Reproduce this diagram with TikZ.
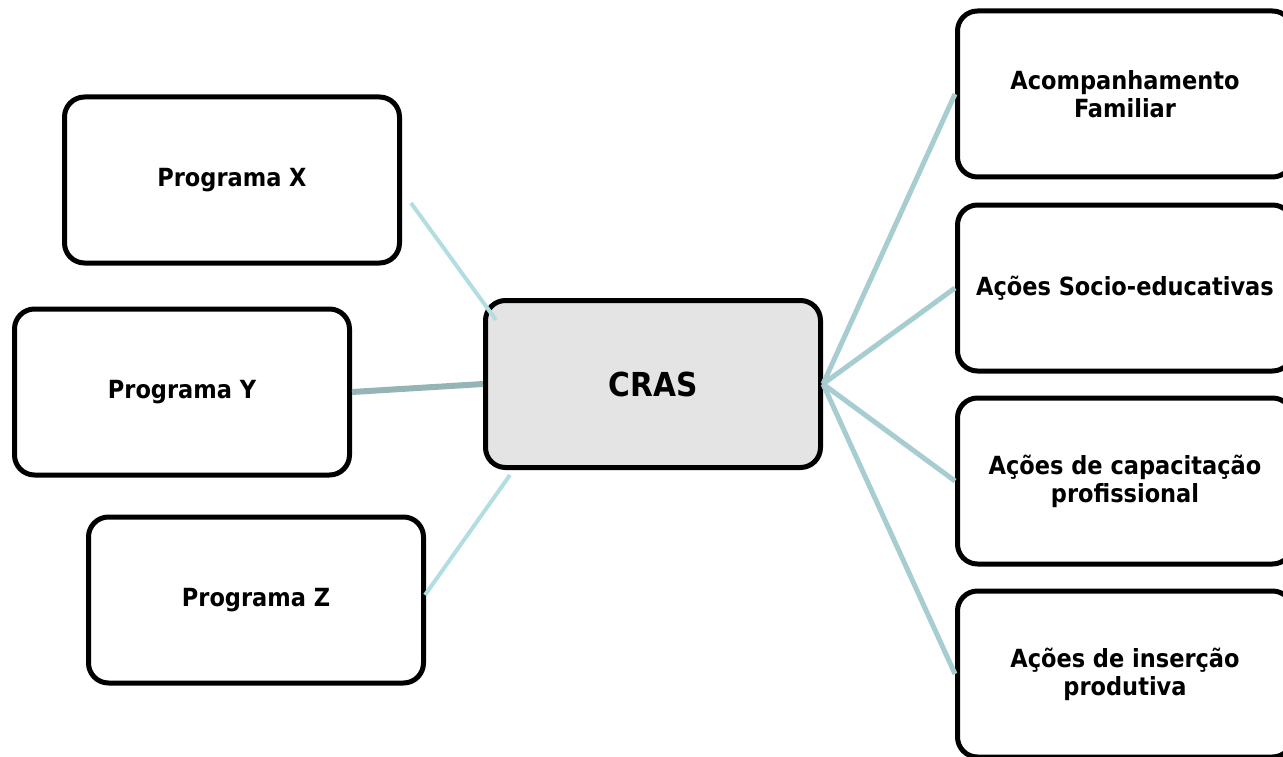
\documentclass[tikz,border=0pt]{standalone}
\usepackage{fontspec}
\setmainfont{DejaVu Sans Condensed}[BoldFont={DejaVu Sans Condensed Bold}]
\usetikzlibrary{calc}

\definecolor{boxfill}{HTML}{E4E4E4}
\definecolor{linklight}{HTML}{B2DEE2}
\definecolor{linkdark}{HTML}{94B4B6}
\definecolor{linkright}{HTML}{A8CDD0}

\tikzset{
  card/.style={draw=black, line width=5pt, rounded corners=20pt, fill=white,
    minimum width=335pt, minimum height=166pt, inner sep=0pt, align=center,
    font=\fontsize{25}{28}\selectfont\bfseries},
  hub/.style={card, fill=boxfill, minimum height=167pt,
    font=\fontsize{33}{38}\selectfont\bfseries},
  thinlink/.style={draw=linklight, line width=4pt},
  ylink/.style={draw=linkdark, line width=6pt},
  rlink/.style={draw=linkright, line width=5pt},
}

\begin{document}
\begin{tikzpicture}[x=1pt, y=-1pt]
  \path[use as bounding box, clip] (0,0) rectangle (1283,757);

  % central node
  \node[hub] (cras) at (653,384) {CRAS};

  % programmes on the left
  \node[card] (px) at (232,180) {Programa X};
  \node[card] (py) at (182,392) {Programa Y};
  \node[card] (pz) at (256,600) {Programa Z};

  % actions on the right
  \node[card] (r1) at (1125,94)  {Acompanhamento\\Familiar};
  \node[card] (r2) at (1125,288) {Ações Socio-educativas};
  \node[card] (r3) at (1125,481) {Ações de capacitação\\profissional};
  \node[card] (r4) at (1125,674) {Ações de inserção\\produtiva};

  % loose ends of the left connectors
  \coordinate (xa) at ($(px.east)+(9,23)$);
  \coordinate (xb) at ($(cras.north west)+(13,22)$);
  \coordinate (za) at ($(pz.east)+(-1,-5)$);
  \coordinate (zb) at ($(cras.south west)+(27,5)$);

  \draw[thinlink] (xa) -- (xb);
  \draw[ylink] ($(py.east)+(0,0)$) -- ($(cras.west)+(0,0)$);
  \draw[thinlink] (za) -- (zb);

  \foreach \t in {r1,r2,r3,r4}
    \draw[rlink] (cras.east) -- (\t.west);
\end{tikzpicture}
\end{document}
